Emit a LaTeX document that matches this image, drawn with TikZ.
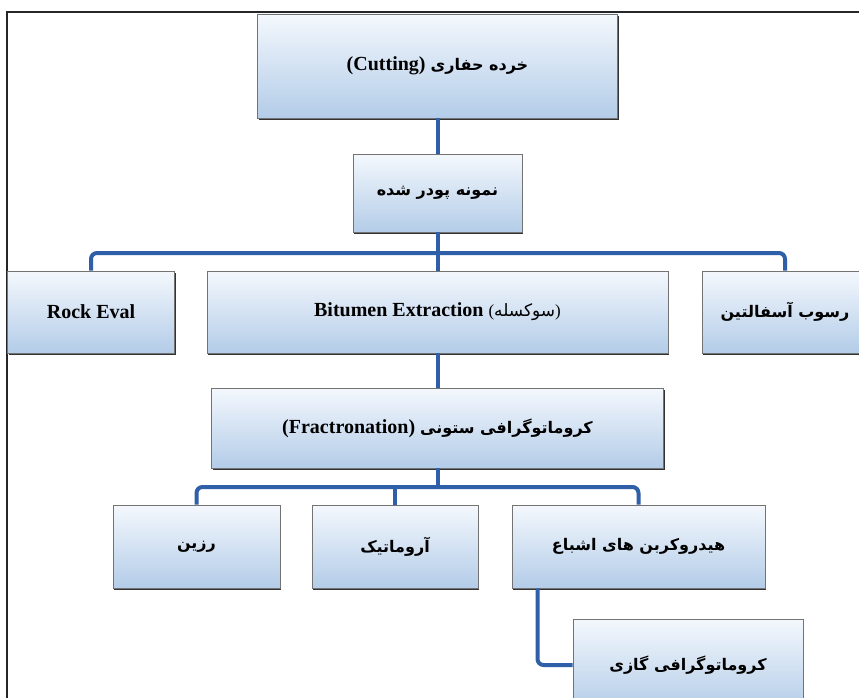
\documentclass[tikz,border=0pt]{standalone}
\usepackage{fontspec}
\setmainfont{Liberation Serif}
\newfontfamily\fa[Script=Arabic]{DejaVu Sans}
\TeXXeTstate=1
\usetikzlibrary{shadows}
\definecolor{boxtop}{HTML}{F4F8FD}
\definecolor{boxbot}{HTML}{B3CCE8}
\definecolor{conncol}{HTML}{2F5FA8}
\newcommand{\lt}{\fontsize{20}{24}\selectfont\bfseries}
\newcommand{\ft}{\fontsize{16}{20}\selectfont\fa\bfseries}
\tikzset{
  stepbox/.style={rectangle, draw=black!55, line width=0.8pt,
    top color=boxtop, bottom color=boxbot, inner sep=0pt,
    drop shadow={shadow xshift=1.2pt, shadow yshift=-2pt, fill=black!80, opacity=1}},
  conn/.style={draw=conncol, line width=4pt, rounded corners=6pt}
}
\begin{document}
\begin{tikzpicture}[x=1pt,y=-1pt]
\useasboundingbox (0,0) rectangle (859,698);
\fill[white] (0,0) rectangle (859,698);
% frame
\draw[line width=2.5pt, black!85] (7,700) -- (7,12) -- (862,12);
% coordinates for buses
\coordinate (busA) at (0,253);
\coordinate (busB) at (0,487);
% nodes
\node[stepbox, minimum width=360, minimum height=104] (cut) at (437.5,66)
  {\lt (Cutting) {\ft\beginR خرده حفاری\endR}};
\node[stepbox, minimum width=169, minimum height=78] (powder) at (437.5,193)
  {\ft\beginR نمونه پودر شده\endR};
\node[stepbox, minimum width=167, minimum height=82] (rock) at (91,312)
  {\lt Rock Eval};
\node[stepbox, minimum width=461, minimum height=82] (bit) at (437.5,312)
  {\lt Bitumen Extraction \fontsize{17}{20}\selectfont\mdseries({\fa\beginR سوکسله\endR})};
\node[stepbox, minimum width=166, minimum height=82] (asph) at (785,312)
  {\ft\beginR رسوب آسفالتین\endR};
\node[stepbox, minimum width=452, minimum height=80] (frac) at (437.5,428)
  {\lt (Fractronation) {\ft\beginR کروماتوگرافی ستونی\endR}};
\node[stepbox, minimum width=167, minimum height=83] (resin) at (196.5,546.5)
  {\ft\beginR رزین\endR};
\node[stepbox, minimum width=166, minimum height=83] (arom) at (395,546.5)
  {\ft\beginR آروماتیک\endR};
\node[stepbox, minimum width=253, minimum height=83] (sat) at (638.5,546.5)
  {\ft\beginR هیدروکربن های اشباع\endR};
\node[stepbox, minimum width=230, minimum height=92] (gc) at (688,665)
  {\ft\beginR کروماتوگرافی گازی\endR};
% connectors
\draw[conn] (cut.south) -- (powder.north);
\draw[conn] (powder.south) -- (bit.north);
\draw[conn] (rock.north) |- (bit.north |- busA) -| (asph.north);
\draw[conn] (bit.south) -- (frac.north);
\draw[conn] (frac.south) -- (frac.south |- busB);
\draw[conn] (resin.north) |- (sat.north |- busB) -- (sat.north);
\draw[conn] (arom.north) -- (arom.north |- busB);
\draw[conn] ([xshift=-101pt]sat.south) |- (gc.west);
\end{tikzpicture}
\end{document}
